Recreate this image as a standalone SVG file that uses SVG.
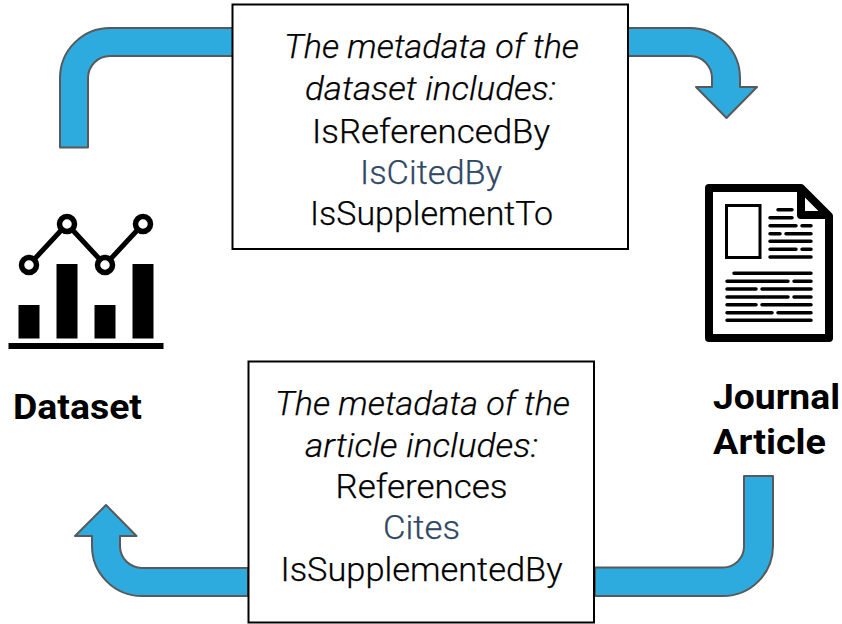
<svg xmlns="http://www.w3.org/2000/svg" width="842" height="624" viewBox="0 0 842 624">
<style>
.arrow{fill:#2dabdf;stroke:#595959;stroke-width:2;stroke-linejoin:round}
.box{fill:#fff;stroke:#000;stroke-width:2}
.t{font-family:"Roboto","Liberation Sans",sans-serif;font-size:33px;fill:#000;text-anchor:middle;font-weight:300;stroke:#000;stroke-width:.25}
.i{font-style:italic}
.c{fill:#2f4763;stroke:#2f4763}
.b{font-family:"Roboto","Liberation Sans",sans-serif;font-size:35px;font-weight:700;fill:#000}
.ln{stroke:#000;stroke-width:3.5;stroke-linecap:round;fill:none}
</style>
<rect width="842" height="624" fill="#fff"/>
<g id="connectors">
<path class="arrow" d="M60 147.500V78A50 50 0 0 1 110 28H233V56H110A22 22 0 0 0 88 78V147.500Z"/>
<path class="arrow" d="M628 28H690A50 50 0 0 1 740 78V87H757L726.500 118L696 87H712V78A22 22 0 0 0 690 56H628Z"/>
<path class="arrow" d="M248 596H142A50 50 0 0 1 92 546V536H75L106 505L136.500 536H120V546A22 22 0 0 0 142 568H248Z"/>
<path class="arrow" d="M595 596H723A50 50 0 0 0 773 546V476H744V546A21 21 0 0 1 723 567.500H595Z"/>
</g>
<g id="box-dataset">
<rect class="box" x="232.500" y="4.500" width="395.500" height="244.500"/>
<text class="t i" x="431.500" y="58" textLength="295" lengthAdjust="spacingAndGlyphs">The metadata of the</text>
<text class="t i" x="430.500" y="100" textLength="251" lengthAdjust="spacingAndGlyphs">dataset includes:</text>
<text class="t" x="431" y="143" textLength="238" lengthAdjust="spacingAndGlyphs">IsReferencedBy</text>
<text class="t c" x="431" y="184" textLength="142" lengthAdjust="spacingAndGlyphs">IsCitedBy</text>
<text class="t" x="431.500" y="225" textLength="243" lengthAdjust="spacingAndGlyphs">IsSupplementTo</text>
</g>
<g id="box-article">
<rect class="box" x="248.500" y="361.500" width="345.500" height="261"/>
<text class="t i" x="422.500" y="415" textLength="295" lengthAdjust="spacingAndGlyphs">The metadata of the</text>
<text class="t i" x="421.500" y="456.500" textLength="233" lengthAdjust="spacingAndGlyphs">article includes:</text>
<text class="t" x="421.500" y="498" textLength="172" lengthAdjust="spacingAndGlyphs">References</text>
<text class="t c" x="421.500" y="539" textLength="77" lengthAdjust="spacingAndGlyphs">Cites</text>
<text class="t" x="421.500" y="581" textLength="282" lengthAdjust="spacingAndGlyphs">IsSupplementedBy</text>
</g>
<g id="dataset">
<rect x="18.500" y="305" width="21" height="33.500"/>
<rect x="56.500" y="264" width="21" height="74.500"/>
<rect x="94.500" y="305" width="21" height="33.500"/>
<rect x="132.500" y="264" width="21" height="74.500"/>
<rect x="8.500" y="343" width="155" height="6"/>
<path d="M29 265L67 224L105 265L143 224" fill="none" stroke="#000" stroke-width="5"/>
<g fill="#fff" stroke="#000" stroke-width="5.500">
<circle cx="29" cy="265" r="7.500"/><circle cx="67" cy="224" r="7.500"/><circle cx="105" cy="265" r="7.500"/><circle cx="143" cy="224" r="7.500"/>
</g>
<text class="b" x="13" y="419" textLength="129" lengthAdjust="spacingAndGlyphs">Dataset</text>
</g>
<g id="journal-article">
<path d="M709 188H801L829 216V338H709Z" fill="#fff" stroke="#000" stroke-width="8" stroke-linejoin="round"/>
<path d="M801 188V215H829" fill="none" stroke="#000" stroke-width="8" stroke-linejoin="round"/>
<rect x="726.500" y="205.500" width="33.500" height="52" fill="#fff" stroke="#000" stroke-width="3"/>
<path class="ln" d="M778 209.700H792M770 217.700H792M770 225.700H796M802 225.700H811M770 233.700H780M786 233.700H811M770 241.300H811M770 249.300H796M802 249.300H811M770 257H811M734 273.300H811M727 281.300H788M794 281.300H811M727 289H756M762 289H811M727 297H788M794 297H811M727 304.700H756M762 304.700H811M727 312.700H772M778 312.700H811M727 320.300H811"/>
<text class="b" x="713" y="409" textLength="127" lengthAdjust="spacingAndGlyphs">Journal</text>
<text class="b" x="713" y="454" textLength="113" lengthAdjust="spacingAndGlyphs">Article</text>
</g>
</svg>
